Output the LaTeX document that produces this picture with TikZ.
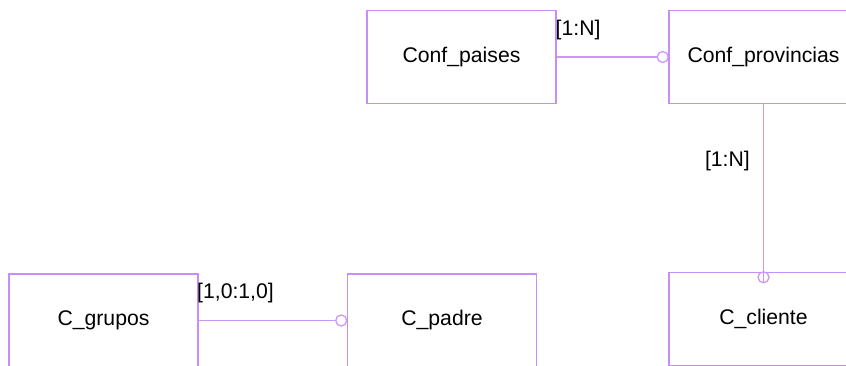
\documentclass[tikz,border=0pt]{standalone}
\usepackage{fontspec}
\setmainfont{Liberation Sans}
\definecolor{boxc}{HTML}{C68EF6}
\definecolor{linec}{HTML}{CB98F8}
\begin{document}
\begin{tikzpicture}[x=1pt,y=-1pt,
  ent/.style={draw=boxc,line width=1.5pt,minimum width=189pt,minimum height=93pt,inner sep=0pt,font=\fontsize{21.2}{25}\selectfont},
  conn/.style={draw=linec,line width=1.3pt},
  lbl/.style={inner sep=0pt,font=\fontsize{21.2}{25}\selectfont}]
\useasboundingbox (0,0) rectangle (846,365);
\clip (0,0) rectangle (846,365);
\node[ent] (paises) at (461.5,57) {Conf\_paises};
\node[ent] (prov) at (763.5,57) {Conf\_provincias};
\node[ent] (grupos) at (103.5,320.5) {C\_grupos};
\node[ent] (padre) at (442,320.5) {C\_padre};
\node[ent] (cliente) at (763.5,319) {C\_cliente};
% Conf_paises -> Conf_provincias
\draw[conn] (paises.east) -- ([xshift=-11pt]prov.west);
\draw[conn] ([xshift=-5.5pt]prov.west) circle[radius=5.5pt];
\node[lbl,anchor=west] (l1) at (555.5,30) {[1:N]};
% Conf_provincias -> C_cliente
\draw[conn] (prov.south) -- ([yshift=-11pt]cliente.north);
\draw[conn] ([yshift=-5.5pt]cliente.north) circle[radius=5.5pt];
\node[lbl,anchor=east] (l2) at (750,161) {[1:N]};
% C_grupos -> C_padre
\draw[conn] (grupos.east) -- ([xshift=-11pt]padre.west);
\draw[conn] ([xshift=-5.5pt]padre.west) circle[radius=5.5pt];
\node[lbl,anchor=west] (l3) at (197,293) {[1,0:1,0]};
\end{tikzpicture}
\end{document}
